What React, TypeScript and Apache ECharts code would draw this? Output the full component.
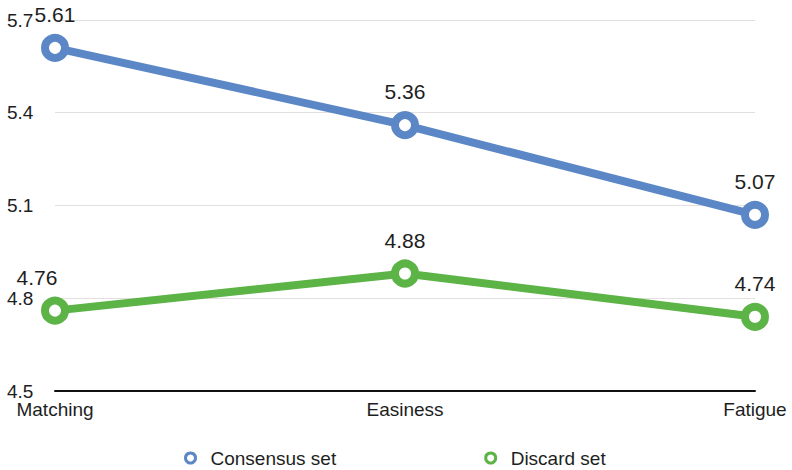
import React, { useEffect, useRef } from "react";
import * as echarts from "echarts";

const categories = ["Matching", "Easiness", "Fatigue"];
const consensusValues = [5.61, 5.36, 5.07];
const discardValues = [4.76, 4.88, 4.74];
const yTicks = { min: 4.5, max: 5.7, step: 0.3 };

const FONT = "'Liberation Sans', Arial, Helvetica, sans-serif";
const BLUE = "#5b87c6";
const GREEN = "#5cb346";

function makeSeries(name: string, values: number[], color: string, firstLabelShift = 0) {
  return {
    name,
    type: "line",
    data: values.map((v, i) =>
      i === 0 && firstLabelShift
        ? { value: v, label: { offset: [firstLabelShift, 0] } }
        : v
    ),
    symbol: "circle",
    symbolSize: 20,
    lineStyle: { color, width: 8 },
    itemStyle: { color: "#ffffff", borderColor: color, borderWidth: 8 },
    label: {
      show: true,
      position: "top",
      distance: 9,
      color: "#1e1e1e",
      fontSize: 21,
      fontFamily: FONT,
      formatter: (p: any) => Number(p.value).toFixed(2),
    },
  };
}

export default function App() {
  const ref = useRef<HTMLDivElement>(null);

  useEffect(() => {
    if (!ref.current) return;
    const chart = echarts.init(ref.current, undefined, { renderer: "svg" });
    chart.setOption({
      animation: false,
      backgroundColor: "#ffffff",
      grid: { left: 55, right: 37, top: 20, bottom: 79 },
      xAxis: {
        type: "category",
        data: categories,
        boundaryGap: false,
        axisTick: { show: false },
        axisLine: { lineStyle: { color: "#111", width: 2 } },
        axisLabel: { color: "#1e1e1e", fontSize: 19, fontFamily: FONT, margin: 9 },
      },
      yAxis: {
        type: "value",
        min: yTicks.min,
        max: yTicks.max,
        interval: yTicks.step,
        axisLine: { show: false },
        axisTick: { show: false },
        splitLine: { lineStyle: { color: "#e4dfdf", width: 1 } },
        axisLabel: {
          color: "#1e1e1e",
          fontSize: 19,
          fontFamily: FONT,
          align: "left",
          margin: 48,
          formatter: (v: number) => v.toFixed(1),
        },
      },
      legend: {
        left: 184,
        top: 448,
        padding: 0,
        itemGap: 148,
        itemWidth: 30,
        itemHeight: 10,
        textStyle: { color: "#1e1e1e", fontSize: 19, lineHeight: 20, fontFamily: FONT },
        data: [
          {
            name: "Consensus set",
            icon: "circle",
            itemStyle: { color: "#ffffff", borderColor: BLUE, borderWidth: 3 },
          },
          {
            name: "Discard set",
            icon: "circle",
            itemStyle: { color: "#ffffff", borderColor: GREEN, borderWidth: 3 },
          },
        ],
      },
      series: [
        makeSeries("Consensus set", consensusValues, BLUE),
        makeSeries("Discard set", discardValues, GREEN, -18),
      ],
    });
    return () => chart.dispose();
  }, []);

  return <div ref={ref} style={{ width: 792, height: 470, position: "absolute", left: 0, top: 0 }} />;
}
